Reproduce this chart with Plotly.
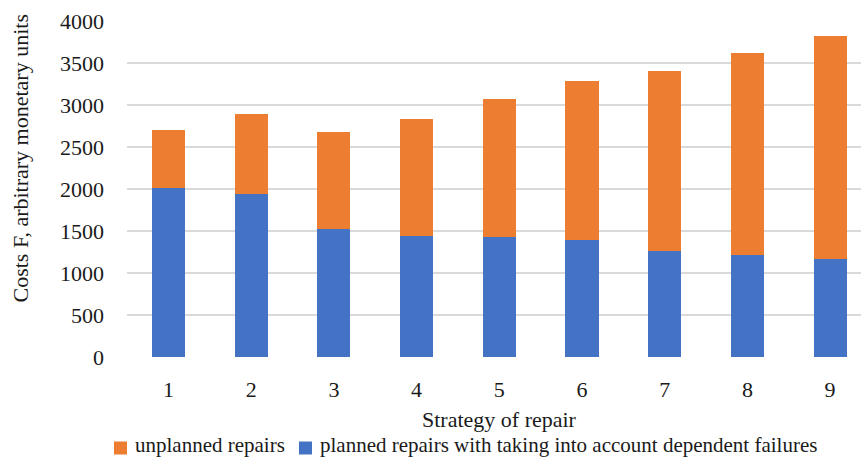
import plotly.graph_objects as go

# Repair strategies and their cost components
strategies = [1, 2, 3, 4, 5, 6, 7, 8, 9]
planned = [2010, 1940, 1528, 1440, 1430, 1388, 1257, 1214, 1166]
unplanned = [695, 947, 1150, 1396, 1645, 1897, 2147, 2405, 2659]
y_ticks = [0, 500, 1000, 1500, 2000, 2500, 3000, 3500, 4000]

name_planned = "planned repairs with taking into account dependent failures"
name_unplanned = "unplanned repairs"
c_blue = "#4472C4"
c_orange = "#ED7D31"
font_family = "Liberation Serif"

fig = go.Figure()
fig.add_trace(go.Bar(x=strategies, y=planned, name=name_planned,
                     marker=dict(color=c_blue, line=dict(width=0)), width=0.4))
fig.add_trace(go.Bar(x=strategies, y=unplanned, name=name_unplanned,
                     marker=dict(color=c_orange, line=dict(width=0)), width=0.4))

W, H = 861, 458
L, R, T, B = 127, 0, 21, 101
pw, ph = W - L - R, H - T - B

def px_x(x):
    return (x - L) / pw

def px_y(y):
    return (H - B - y) / ph

fig.update_layout(
    barmode="stack",
    width=W, height=H,
    margin=dict(l=L, r=R, t=T, b=B, pad=0),
    plot_bgcolor="white", paper_bgcolor="white",
    font=dict(family=font_family, size=22, color="#1a1a1a"),
    showlegend=False,
    xaxis=dict(range=[0.498, 9.374], tickvals=strategies, ticktext=[str(s) for s in strategies],
               showgrid=False, zeroline=False, showline=False, ticks="",
               ticklabelstandoff=17),
    yaxis=dict(range=[0, 4000], tickvals=y_ticks, showgrid=True, gridcolor="#D9D9D9",
               gridwidth=1.5, zeroline=False, showline=False, ticks="",
               ticklabelstandoff=22),
)

# Axis titles
fig.add_annotation(text="Costs F, arbitrary monetary units", textangle=-90,
                   xref="paper", yref="paper", x=px_x(20), y=px_y(158.5),
                   xanchor="center", yanchor="middle", showarrow=False)
fig.add_annotation(text="Strategy of repair", xref="paper", yref="paper",
                   x=px_x(499.5), y=px_y(419), xanchor="center", yanchor="middle",
                   showarrow=False)

# Legend row along the bottom edge
legend_items = [(c_orange, name_unplanned, 114), (c_blue, name_planned, 299)]
for color, label, x0 in legend_items:
    fig.add_shape(type="rect", xref="paper", yref="paper",
                  x0=px_x(x0), x1=px_x(x0 + 13), y0=px_y(454.5), y1=px_y(441.5),
                  fillcolor=color, line=dict(width=0))
    fig.add_annotation(text=label, xref="paper", yref="paper",
                       x=px_x(x0 + 20), y=px_y(458), xanchor="left", yanchor="bottom",
                       borderpad=0, font=dict(size=21), showarrow=False)

fig.write_html("out.html")
